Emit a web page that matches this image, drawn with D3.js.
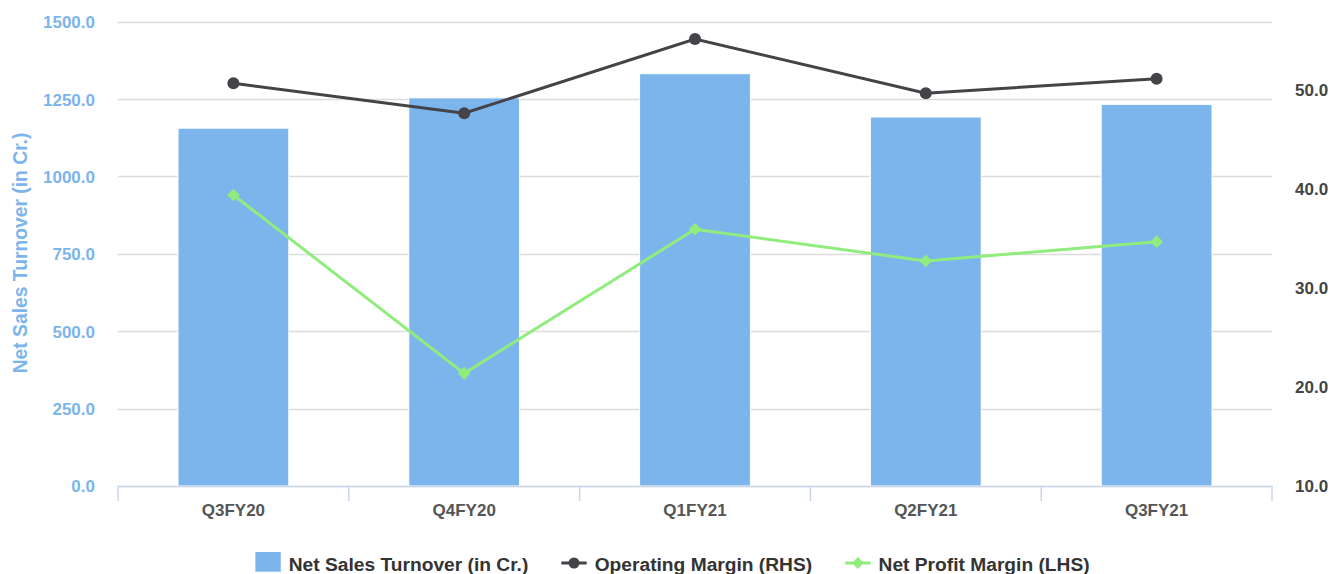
<!DOCTYPE html>
<html><head><meta charset="utf-8">
<script src="https://cdn.jsdelivr.net/npm/d3@7"></script>
<style>
html,body{margin:0;padding:0;background:#fff;}
svg{display:block;font-family:"Liberation Sans",Arial,Helvetica,sans-serif;}
</style></head>
<body>
<svg id="chart" width="1333" height="574"></svg>
<script>
const categories = ["Q3FY20","Q4FY20","Q1FY21","Q2FY21","Q3FY21"];
const netSales = [1156, 1254, 1332, 1192, 1233];
const operatingMargin = [50.68, 47.65, 55.15, 49.67, 51.14];
const netProfitMargin = [39.39, 21.38, 35.93, 32.73, 34.68];
const leftTicks = [0, 250, 500, 750, 1000, 1250, 1500];
const rightTicks = [10, 20, 30, 40, 50];
const leftDomain = [0, 1500];
const rightDomain = [10, 56.9];
const seriesNames = ["Net Sales Turnover (in Cr.)", "Operating Margin (RHS)", "Net Profit Margin (LHS)"];
const leftTitle = "Net Sales Turnover (in Cr.)";

const colors = {bar:"#7cb5ec", op:"#434348", np:"#90ed7d"};
const svg = d3.select("#chart");
const m = {left:118, right:1272, top:21.7, bottom:486};

const x = d3.scaleBand().domain(categories).range([m.left, m.right]).paddingInner(0).paddingOuter(0);
const yL = d3.scaleLinear().domain(leftDomain).range([m.bottom, m.top]);
const yR = d3.scaleLinear().domain(rightDomain).range([m.bottom, m.top]);

// gridlines
svg.append("g").selectAll("line").data(leftTicks).join("line")
  .attr("x1", m.left).attr("x2", m.right)
  .attr("y1", d => Math.round(yL(d)) + 0.5).attr("y2", d => Math.round(yL(d)) + 0.5)
  .attr("stroke", "#dcdcdc").attr("stroke-width", 1.5);

// bars
const bw = x.bandwidth() * 0.48;
svg.append("g").selectAll("rect").data(netSales).join("rect")
  .attr("x", (d,i) => x(categories[i]) + x.bandwidth()/2 - bw/2)
  .attr("width", bw)
  .attr("y", d => yL(d))
  .attr("height", d => yL(0) - yL(d))
  .attr("fill", colors.bar).attr("stroke", "#ffffff").attr("stroke-width", 1);

// x axis
const xAxis = d3.axisBottom(x).tickSize(0).tickSizeOuter(0);
const gx = svg.append("g").attr("transform", `translate(0,${m.bottom})`).call(xAxis);
gx.select(".domain").attr("stroke", "#ccd6eb").attr("stroke-width", 1.5);
gx.selectAll(".tick text").attr("dy", null).attr("y", 30)
  .attr("font-size", 17).attr("font-weight", "bold").attr("fill", "#555555")
  .attr("font-family", "Liberation Sans, Arial, sans-serif");
// category boundary ticks
const bounds = categories.map(c => x(c)).concat([m.right]);
svg.append("g").selectAll("line").data(bounds).join("line")
  .attr("x1", d => d).attr("x2", d => d)
  .attr("y1", m.bottom).attr("y2", m.bottom + 15)
  .attr("stroke", "#ccd6eb").attr("stroke-width", 1.5);

// left axis
const gl = svg.append("g").attr("transform", `translate(${m.left - 23},0)`)
  .call(d3.axisLeft(yL).tickValues(leftTicks).tickFormat(d3.format(".1f")).tickSize(0));
gl.select(".domain").remove();
gl.selectAll(".tick text").attr("x", 0).attr("dy", "0.35em")
  .attr("font-size", 17).attr("font-weight", "bold").attr("fill", colors.bar)
  .attr("font-family", "Liberation Sans, Arial, sans-serif");

// right axis
const gr = svg.append("g").attr("transform", `translate(${m.right + 23},0)`)
  .call(d3.axisRight(yR).tickValues(rightTicks).tickFormat(d3.format(".1f")).tickSize(0));
gr.select(".domain").remove();
gr.selectAll(".tick text").attr("x", 0).attr("dy", "0.35em")
  .attr("font-size", 17).attr("font-weight", "bold").attr("fill", "#444444")
  .attr("font-family", "Liberation Sans, Arial, sans-serif");

// left title
svg.append("text").attr("transform", `translate(27,253) rotate(-90)`)
  .attr("text-anchor", "middle")
  .attr("font-size", 19.3).attr("font-weight", "bold").attr("fill", colors.bar)
  .text(leftTitle);

const cx = (d,i) => x(categories[i]) + x.bandwidth()/2;

// operating margin line
svg.append("path").datum(operatingMargin)
  .attr("d", d3.line().x(cx).y(d => yR(d)))
  .attr("fill", "none").attr("stroke", colors.op).attr("stroke-width", 3);
svg.append("g").selectAll("circle").data(operatingMargin).join("circle")
  .attr("cx", cx).attr("cy", d => yR(d)).attr("r", 6).attr("fill", colors.op);

// net profit margin line
svg.append("path").datum(netProfitMargin)
  .attr("d", d3.line().x(cx).y(d => yR(d)))
  .attr("fill", "none").attr("stroke", colors.np).attr("stroke-width", 3);
const diamond = d3.symbol().type(d3.symbolDiamond2 || d3.symbolSquare).size(90);
svg.append("g").selectAll("path").data(netProfitMargin).join("path")
  .attr("transform", (d,i) => `translate(${cx(d,i)},${yR(d)}) rotate(45)`)
  .attr("d", d3.symbol().type(d3.symbolSquare).size(80))
  .attr("fill", colors.np);

// legend
const legend = svg.append("g");
const items = [
  {name: seriesNames[0], type: "bar", color: colors.bar},
  {name: seriesNames[1], type: "circle", color: colors.op},
  {name: seriesNames[2], type: "diamond", color: colors.np}
];
let lx = 0;
const baseY = 570.5;
const symW = 25.4, gap = 8, itemGap = 33;
items.forEach((it, i) => {
  const g = legend.append("g").attr("transform", `translate(${lx},0)`);
  if (it.type === "bar") {
    g.append("rect").attr("x", 0).attr("y", 552).attr("width", symW).attr("height", 19.7).attr("fill", it.color);
  } else {
    g.append("line").attr("x1", 0).attr("x2", symW).attr("y1", 563).attr("y2", 563)
      .attr("stroke", it.color).attr("stroke-width", 3);
    if (it.type === "circle") {
      g.append("circle").attr("cx", symW/2).attr("cy", 563).attr("r", 5.5).attr("fill", it.color);
    } else {
      g.append("path").attr("transform", `translate(${symW/2},563) rotate(45)`)
        .attr("d", d3.symbol().type(d3.symbolSquare).size(70)).attr("fill", it.color);
    }
  }
  const t = g.append("text").attr("x", symW + gap).attr("y", baseY)
    .attr("font-size", 19.2).attr("font-weight", "bold").attr("fill", "#333333")
    .text(it.name);
  lx += symW + gap + t.node().getComputedTextLength() + itemGap;
});
const totalW = lx - itemGap;
legend.attr("transform", `translate(${672.5 - totalW/2},0)`);
</script>
</body></html>
